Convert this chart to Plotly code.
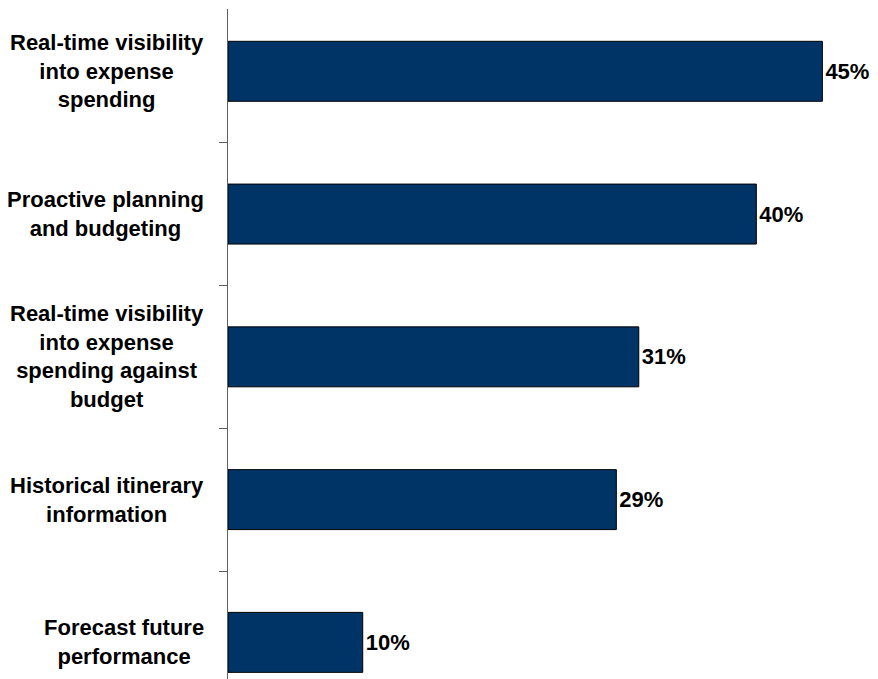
import plotly.graph_objects as go

categories = [
    "Real-time visibility<br>into expense<br>spending",
    "Proactive planning<br>and budgeting",
    "Real-time visibility<br>into expense<br>spending against<br>budget",
    "Historical itinerary<br>information",
    "Forecast future<br>performance",
]
values = [45, 40, 31.1, 29.4, 10.2]
value_labels = ["45%", "40%", "31%", "29%", "10%"]

FONT = "Arial, Liberation Sans, sans-serif"

fig = go.Figure()
fig.add_trace(go.Bar(
    x=values,
    y=categories,
    orientation="h",
    width=0.42,
    marker=dict(color="#003366", line=dict(color="#000000", width=1)),
    text=["<b>%s</b>" % t for t in value_labels],
    textposition="outside",
    textfont=dict(family=FONT, size=22, color="#000000"),
    cliponaxis=False,
    constraintext="none",
))

annotations = []
for c in categories:
    annotations.append(dict(
        x=-0.035, xref="paper", xanchor="right",
        y=c, yref="y", yanchor="middle",
        text="<b>%s</b>" % c, showarrow=False, align="center",
        font=dict(family=FONT, size=22, color="#000000"),
    ))

fig.update_layout(
    width=878, height=679,
    margin=dict(l=228, r=16, t=9, b=0),
    paper_bgcolor="white", plot_bgcolor="white",
    showlegend=False,
    annotations=annotations,
    xaxis=dict(range=[0, 48], visible=False, showgrid=False, zeroline=False),
    yaxis=dict(
        type="category",
        categoryorder="array", categoryarray=categories,
        range=[4.2565, -0.4364],
        showline=True, linecolor="#606060", linewidth=1,
        ticks="outside", tickson="boundaries", ticklen=8, tickcolor="#606060",
        showticklabels=False, showgrid=False, zeroline=False,
    ),
)

fig.write_html("out.html")
